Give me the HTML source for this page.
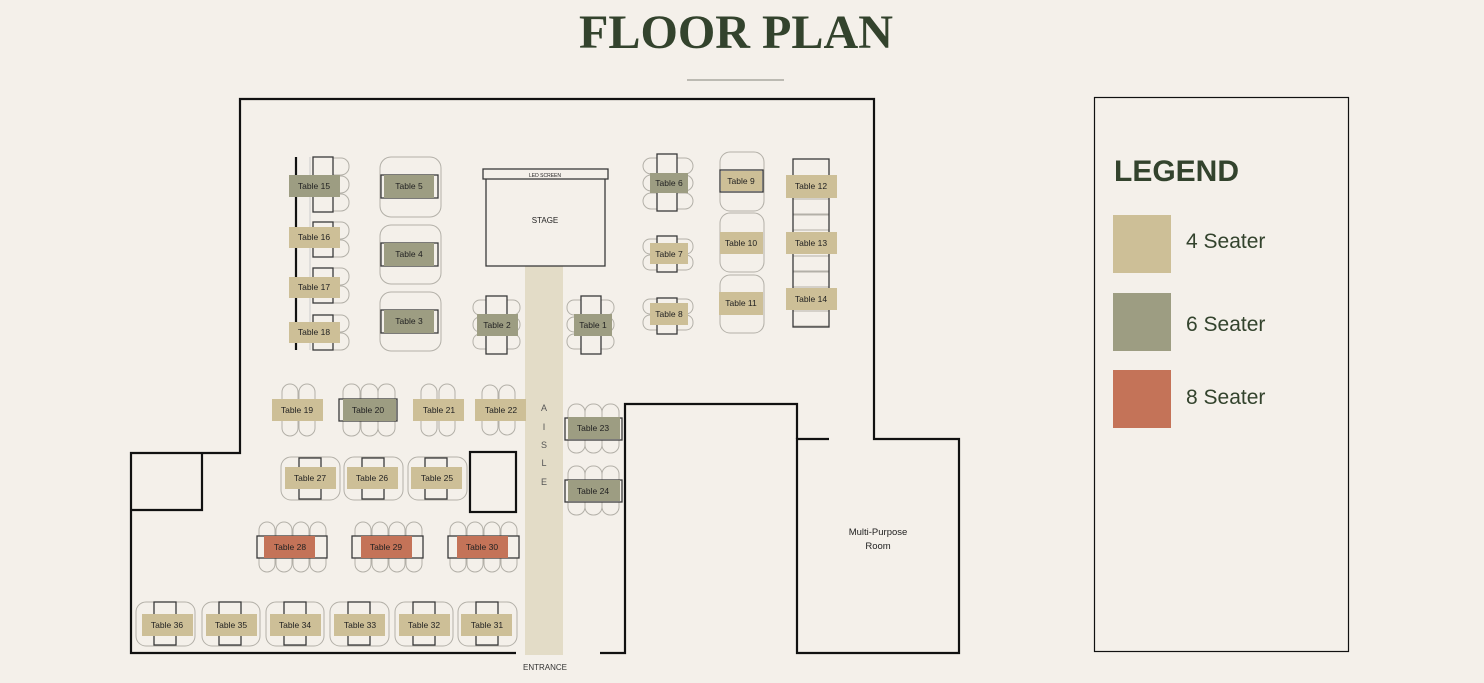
<!DOCTYPE html>
<html><head><meta charset="utf-8"><style>
html,body{margin:0;padding:0;background:#f4f0ea;}
svg{display:block}
.c{fill:#f4f0ea;stroke:#b3b0a8;stroke-width:1}
.t{fill:#f4f0ea;stroke:#3a3a3a;stroke-width:1.3}
.w{fill:none;stroke:#111;stroke-width:2.2}
.a{fill:#cdbf97}.b{fill:#9d9d82}.r{fill:#c47358}
text{font-family:"Liberation Sans",sans-serif;fill:#222}
.l{font-size:8.5px;text-anchor:middle}
</style></head><body>
<svg width="1484" height="683" viewBox="0 0 1484 683" xmlns="http://www.w3.org/2000/svg">
<rect width="1484" height="683" fill="#f4f0ea"/>
<text x="736" y="48" text-anchor="middle" textLength="314" lengthAdjust="spacingAndGlyphs" style="font-family:'Liberation Serif',serif;font-weight:bold;font-size:48px;fill:#33432d">FLOOR PLAN</text>
<line x1="687" y1="80" x2="784" y2="80" stroke="#9a9a90" stroke-width="1.2"/>

<!-- walls -->
<polyline class="w" points="516,653 131,653 131,453 240,453 240,99 874,99 874,439 959,439 959,653 797,653 797,439 829,439"/>
<polyline class="w" points="202,453 202,510 131,510"/>
<polyline class="w" points="600,653 625,653 625,404 797,404 797,439"/>
<rect x="470" y="452" width="46" height="60" class="w"/>
<!-- aisle -->
<rect x="525" y="266" width="38" height="389" fill="#e3dcc7"/>
<text x="544" y="411" class="l" style="font-size:9px;fill:#555">A</text>
<text x="544" y="430" class="l" style="font-size:9px;fill:#555">I</text>
<text x="544" y="448" class="l" style="font-size:9px;fill:#555">S</text>
<text x="544" y="466" class="l" style="font-size:9px;fill:#555">L</text>
<text x="544" y="485" class="l" style="font-size:9px;fill:#555">E</text>
<text x="545" y="670" class="l" style="font-size:8px;fill:#333">ENTRANCE</text>
<!-- stage -->
<rect x="486" y="178" width="119" height="88" class="t"/>
<rect x="483" y="169" width="125" height="10" class="t"/>
<text x="545" y="177" class="l" style="font-size:5px">LED SCREEN</text>
<text x="545" y="223" class="l" style="font-size:8px">STAGE</text>
<text x="878" y="535" class="l" style="font-size:9.5px">Multi-Purpose</text>
<text x="878" y="549" class="l" style="font-size:9.5px">Room</text>

<!-- tables 15-18 -->
<line x1="296" y1="157" x2="296" y2="350" stroke="#111" stroke-width="2.2"/>
<line x1="310" y1="157" x2="310" y2="350" stroke="#ccc" stroke-width="1"/>
<g class="c">
<rect x="322" y="158" width="27" height="17" rx="8"/><rect x="322" y="176" width="27" height="17" rx="8"/><rect x="322" y="194" width="27" height="17" rx="8"/>
<rect x="322" y="222" width="27" height="17" rx="8"/><rect x="322" y="240" width="27" height="17" rx="8"/>
<rect x="322" y="268" width="27" height="17" rx="8"/><rect x="322" y="286" width="27" height="17" rx="8"/>
<rect x="322" y="315" width="27" height="17" rx="8"/><rect x="322" y="333" width="27" height="17" rx="8"/>
</g>
<g class="t"><rect x="313" y="157" width="20" height="55"/><rect x="313" y="222" width="20" height="35"/><rect x="313" y="268" width="20" height="35"/><rect x="313" y="315" width="20" height="35"/></g>
<rect class="b" x="289" y="175" width="51" height="22"/><text class="l" x="314" y="189">Table 15</text>
<rect class="a" x="289" y="227" width="51" height="21"/><text class="l" x="314" y="240">Table 16</text>
<rect class="a" x="289" y="277" width="51" height="21"/><text class="l" x="314" y="290">Table 17</text>
<rect class="a" x="289" y="322" width="51" height="21"/><text class="l" x="314" y="335">Table 18</text>

<!-- tables 5,4,3 -->
<g class="c"><rect x="380" y="157" width="61" height="60" rx="11"/><rect x="380" y="225" width="61" height="59" rx="11"/><rect x="380" y="292" width="61" height="59" rx="11"/></g>
<g class="t"><rect x="381" y="175" width="57" height="23"/><rect x="381" y="243" width="57" height="23"/><rect x="381" y="310" width="57" height="23"/></g>
<rect class="b" x="384" y="175" width="50" height="23"/><text class="l" x="409" y="189">Table 5</text>
<rect class="b" x="384" y="243" width="50" height="23"/><text class="l" x="409" y="257">Table 4</text>
<rect class="b" x="384" y="310" width="50" height="23"/><text class="l" x="409" y="324">Table 3</text>

<!-- tables 2,1 -->
<g class="c">
<rect x="473" y="300" width="47" height="15" rx="7"/><rect x="473" y="317" width="47" height="15" rx="7"/><rect x="473" y="334" width="47" height="15" rx="7"/>
<rect x="567" y="300" width="47" height="15" rx="7"/><rect x="567" y="317" width="47" height="15" rx="7"/><rect x="567" y="334" width="47" height="15" rx="7"/>
</g>
<g class="t"><rect x="486" y="296" width="21" height="58"/><rect x="581" y="296" width="20" height="58"/></g>
<rect class="b" x="477" y="314" width="41" height="22"/><text class="l" x="497" y="328">Table 2</text>
<rect class="b" x="574" y="314" width="38" height="22"/><text class="l" x="593" y="328">Table 1</text>

<!-- tables 6,7,8 -->
<g class="c">
<rect x="643" y="158" width="50" height="16" rx="8"/><rect x="643" y="175" width="50" height="16" rx="8"/><rect x="643" y="193" width="50" height="16" rx="8"/>
<rect x="643" y="239" width="50" height="15" rx="7"/><rect x="643" y="255" width="50" height="15" rx="7"/>
<rect x="643" y="299" width="50" height="15" rx="7"/><rect x="643" y="315" width="50" height="15" rx="7"/>
</g>
<g class="t"><rect x="657" y="154" width="20" height="57"/><rect x="657" y="236" width="20" height="36"/><rect x="657" y="298" width="20" height="36"/></g>
<rect class="b" x="650" y="173" width="38" height="20"/><text class="l" x="669" y="186">Table 6</text>
<rect class="a" x="650" y="243" width="38" height="21"/><text class="l" x="669" y="257">Table 7</text>
<rect class="a" x="650" y="303" width="38" height="22"/><text class="l" x="669" y="317">Table 8</text>

<!-- tables 9,10,11 -->
<g class="c"><rect x="720" y="152" width="44" height="59" rx="10"/><rect x="720" y="213" width="44" height="59" rx="10"/><rect x="720" y="275" width="44" height="58" rx="10"/></g>
<g class="t"><rect x="720" y="170" width="43" height="22"/></g>
<rect class="a" x="721" y="171" width="41" height="20"/><text class="l" x="741" y="184">Table 9</text>
<rect class="a" x="720" y="232" width="43" height="22"/><text class="l" x="741" y="246">Table 10</text>
<rect class="a" x="719" y="292" width="44" height="23"/><text class="l" x="741" y="306">Table 11</text>

<!-- tables 12-14 -->
<g class="c"><rect x="793" y="199" width="36" height="15"/><rect x="793" y="215" width="36" height="15"/><rect x="793" y="256" width="36" height="15"/><rect x="793" y="272" width="36" height="15"/><rect x="793" y="311" width="36" height="15"/></g>
<rect x="793" y="159" width="36" height="168" fill="none" stroke="#3a3a3a" stroke-width="1.3"/>
<rect class="a" x="786" y="175" width="51" height="23"/><text class="l" x="811" y="189">Table 12</text>
<rect class="a" x="786" y="232" width="51" height="22"/><text class="l" x="811" y="246">Table 13</text>
<rect class="a" x="786" y="288" width="51" height="22"/><text class="l" x="811" y="302">Table 14</text>

<!-- row 19-22 -->
<g class="c">
<rect x="282" y="384" width="16" height="52" rx="8"/><rect x="299" y="384" width="16" height="52" rx="8"/>
<rect x="343" y="384" width="17" height="52" rx="8"/><rect x="361" y="384" width="17" height="52" rx="8"/><rect x="378" y="384" width="17" height="52" rx="8"/>
<rect x="421" y="384" width="16" height="52" rx="8"/><rect x="439" y="384" width="16" height="52" rx="8"/>
<rect x="482" y="385" width="16" height="50" rx="8"/><rect x="499" y="385" width="16" height="50" rx="8"/>
<rect x="568" y="404" width="17" height="49" rx="8"/><rect x="585" y="404" width="17" height="49" rx="8"/><rect x="602" y="404" width="17" height="49" rx="8"/>
<rect x="568" y="466" width="17" height="49" rx="8"/><rect x="585" y="466" width="17" height="49" rx="8"/><rect x="602" y="466" width="17" height="49" rx="8"/>
</g>
<g class="t"><rect x="339" y="399" width="58" height="22"/><rect x="565" y="418" width="57" height="22"/><rect x="565" y="480" width="57" height="22"/></g>
<rect class="a" x="272" y="399" width="51" height="22"/><text class="l" x="297" y="413">Table 19</text>
<rect class="b" x="343" y="399" width="53" height="22"/><text class="l" x="368" y="413">Table 20</text>
<rect class="a" x="413" y="399" width="51" height="22"/><text class="l" x="439" y="413">Table 21</text>
<rect class="a" x="475" y="399" width="51" height="22"/><text class="l" x="501" y="413">Table 22</text>
<rect class="b" x="568" y="417" width="52" height="22"/><text class="l" x="593" y="431">Table 23</text>
<rect class="b" x="568" y="480" width="52" height="21"/><text class="l" x="593" y="494">Table 24</text>

<!-- row 25-27 -->
<g class="c"><rect x="281" y="457" width="59" height="43" rx="10"/><rect x="344" y="457" width="59" height="43" rx="10"/><rect x="408" y="457" width="59" height="43" rx="10"/></g>
<g class="t"><rect x="299" y="458" width="22" height="41"/><rect x="362" y="458" width="22" height="41"/><rect x="425" y="458" width="22" height="41"/></g>
<rect class="a" x="285" y="467" width="51" height="22"/><text class="l" x="310" y="481">Table 27</text>
<rect class="a" x="347" y="467" width="51" height="22"/><text class="l" x="372" y="481">Table 26</text>
<rect class="a" x="411" y="467" width="51" height="22"/><text class="l" x="437" y="481">Table 25</text>

<!-- row 28-30 -->
<g class="c">
<rect x="259" y="522" width="16" height="50" rx="8"/><rect x="276" y="522" width="16" height="50" rx="8"/><rect x="293" y="522" width="16" height="50" rx="8"/><rect x="310" y="522" width="16" height="50" rx="8"/>
<rect x="355" y="522" width="16" height="50" rx="8"/><rect x="372" y="522" width="16" height="50" rx="8"/><rect x="389" y="522" width="16" height="50" rx="8"/><rect x="406" y="522" width="16" height="50" rx="8"/>
<rect x="450" y="522" width="16" height="50" rx="8"/><rect x="467" y="522" width="16" height="50" rx="8"/><rect x="484" y="522" width="16" height="50" rx="8"/><rect x="501" y="522" width="16" height="50" rx="8"/>
</g>
<g class="t"><rect x="257" y="536" width="70" height="22"/><rect x="352" y="536" width="71" height="22"/><rect x="448" y="536" width="71" height="22"/></g>
<rect class="r" x="264" y="536" width="51" height="22"/><text class="l" x="290" y="550">Table 28</text>
<rect class="r" x="361" y="536" width="51" height="22"/><text class="l" x="386" y="550">Table 29</text>
<rect class="r" x="457" y="536" width="51" height="22"/><text class="l" x="482" y="550">Table 30</text>

<!-- row 31-36 -->
<g class="c"><rect x="136" y="602" width="59" height="44" rx="10"/><rect x="202" y="602" width="58" height="44" rx="10"/><rect x="266" y="602" width="58" height="44" rx="10"/><rect x="330" y="602" width="59" height="44" rx="10"/><rect x="395" y="602" width="58" height="44" rx="10"/><rect x="458" y="602" width="59" height="44" rx="10"/></g>
<g class="t"><rect x="154" y="602" width="22" height="43"/><rect x="219" y="602" width="22" height="43"/><rect x="284" y="602" width="22" height="43"/><rect x="348" y="602" width="22" height="43"/><rect x="413" y="602" width="22" height="43"/><rect x="476" y="602" width="22" height="43"/></g>
<rect class="a" x="142" y="614" width="51" height="22"/><text class="l" x="167" y="628">Table 36</text>
<rect class="a" x="206" y="614" width="51" height="22"/><text class="l" x="231" y="628">Table 35</text>
<rect class="a" x="270" y="614" width="51" height="22"/><text class="l" x="295" y="628">Table 34</text>
<rect class="a" x="334" y="614" width="51" height="22"/><text class="l" x="360" y="628">Table 33</text>
<rect class="a" x="399" y="614" width="51" height="22"/><text class="l" x="424" y="628">Table 32</text>
<rect class="a" x="461" y="614" width="51" height="22"/><text class="l" x="487" y="628">Table 31</text>

<!-- legend -->
<rect x="1094.5" y="97.5" width="254" height="554" fill="none" stroke="#111" stroke-width="1.2"/>
<text x="1114" y="181" style="font-size:30px;font-weight:bold;fill:#33432d">LEGEND</text>
<rect class="a" x="1113" y="215" width="58" height="58"/>
<rect class="b" x="1113" y="293" width="58" height="58"/>
<rect class="r" x="1113" y="370" width="58" height="58"/>
<text x="1186" y="248" style="font-size:21px;fill:#33432d">4 Seater</text>
<text x="1186" y="331" style="font-size:21px;fill:#33432d">6 Seater</text>
<text x="1186" y="404" style="font-size:21px;fill:#33432d">8 Seater</text>
</svg>
</body></html>
